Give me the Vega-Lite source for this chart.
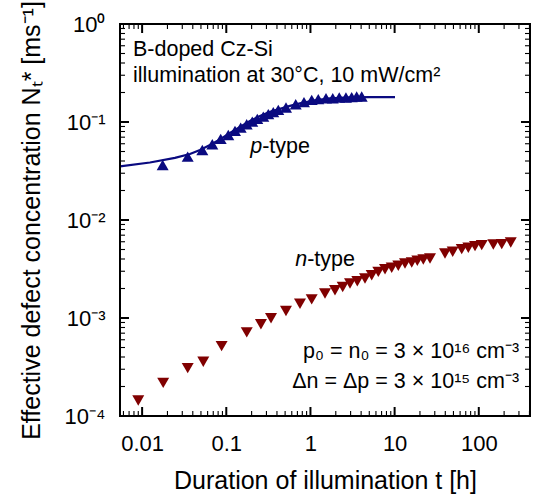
{
  "$schema": "https://vega.github.io/schema/vega-lite/v6.json",
  "width": 410,
  "height": 392,
  "autosize": {"type": "none"},
  "padding": {"left": 120, "top": 24, "right": 7, "bottom": 83},
  "background": "white",
  "config": {
    "view": {"stroke": "black", "strokeWidth": 2},
    "axis": {
      "grid": false,
      "labelColor": "black",
      "titleColor": "black",
      "labelFont": "Liberation Sans",
      "titleFont": "Liberation Sans",
      "labelFontSize": 22,
      "titleFontSize": 25,
      "titleFontWeight": "normal"
    },
    "text": {"font": "Liberation Sans", "fontSize": 21.5, "color": "black"}
  },
  "datasets": {
    "fit": [
      {"t": 0.00546, "N": 0.0352},
      {"t": 0.01239, "N": 0.0386},
      {"t": 0.02455, "N": 0.0430},
      {"t": 0.0370, "N": 0.0472},
      {"t": 0.0487, "N": 0.0519},
      {"t": 0.0640, "N": 0.0583},
      {"t": 0.0841, "N": 0.0664},
      {"t": 0.1106, "N": 0.0774},
      {"t": 0.1454, "N": 0.0891},
      {"t": 0.1912, "N": 0.1026},
      {"t": 0.2514, "N": 0.1154},
      {"t": 0.3304, "N": 0.1268},
      {"t": 0.4345, "N": 0.1361},
      {"t": 0.5713, "N": 0.1461},
      {"t": 0.751, "N": 0.1549},
      {"t": 1.132, "N": 0.1663},
      {"t": 1.707, "N": 0.1743},
      {"t": 2.951, "N": 0.1784},
      {"t": 5.10, "N": 0.1797},
      {"t": 10.1, "N": 0.1797}
    ],
    "ptype": [
      {"t": 0.01754, "N": 0.0364},
      {"t": 0.0348, "N": 0.0443},
      {"t": 0.0519, "N": 0.0518},
      {"t": 0.0682, "N": 0.0593},
      {"t": 0.0858, "N": 0.0672},
      {"t": 0.1056, "N": 0.0738},
      {"t": 0.1269, "N": 0.0811},
      {"t": 0.1483, "N": 0.0877},
      {"t": 0.1747, "N": 0.0950},
      {"t": 0.2036, "N": 0.1009},
      {"t": 0.2335, "N": 0.1076},
      {"t": 0.2752, "N": 0.1136},
      {"t": 0.3155, "N": 0.1202},
      {"t": 0.3617, "N": 0.1260},
      {"t": 0.4147, "N": 0.1330},
      {"t": 0.512, "N": 0.1404},
      {"t": 0.668, "N": 0.152},
      {"t": 0.838, "N": 0.1594},
      {"t": 1.035, "N": 0.168},
      {"t": 1.239, "N": 0.171},
      {"t": 1.53, "N": 0.175},
      {"t": 1.84, "N": 0.175},
      {"t": 2.20, "N": 0.1776},
      {"t": 2.64, "N": 0.1776},
      {"t": 3.09, "N": 0.1793},
      {"t": 3.54, "N": 0.182},
      {"t": 4.06, "N": 0.182}
    ],
    "ntype": [
      {"t": 0.0090, "N": 0.000144},
      {"t": 0.0178, "N": 0.000218},
      {"t": 0.0348, "N": 0.000308},
      {"t": 0.0533, "N": 0.000358},
      {"t": 0.088, "N": 0.000517},
      {"t": 0.175, "N": 0.000714},
      {"t": 0.258, "N": 0.000863},
      {"t": 0.340, "N": 0.000993},
      {"t": 0.512, "N": 0.00118},
      {"t": 0.751, "N": 0.00140},
      {"t": 1.034, "N": 0.00155},
      {"t": 1.489, "N": 0.001776},
      {"t": 1.957, "N": 0.00192},
      {"t": 2.416, "N": 0.002075},
      {"t": 2.951, "N": 0.002247},
      {"t": 3.603, "N": 0.002373},
      {"t": 4.447, "N": 0.002529},
      {"t": 5.342, "N": 0.002733},
      {"t": 6.40, "N": 0.002954},
      {"t": 7.69, "N": 0.003148},
      {"t": 9.235, "N": 0.003253},
      {"t": 11.06, "N": 0.00341},
      {"t": 13.29, "N": 0.00360},
      {"t": 15.97, "N": 0.003685},
      {"t": 18.61, "N": 0.003835},
      {"t": 21.93, "N": 0.003954},
      {"t": 26.33, "N": 0.00405},
      {"t": 39.7, "N": 0.004555},
      {"t": 49.0, "N": 0.00474},
      {"t": 62.7, "N": 0.00504},
      {"t": 75.1, "N": 0.00521},
      {"t": 90.2, "N": 0.00541},
      {"t": 108.4, "N": 0.00554},
      {"t": 148.9, "N": 0.00563},
      {"t": 187.4, "N": 0.00567},
      {"t": 239.7, "N": 0.00590}
    ],
    "notesLeft": [
      {"label": "B-doped Cz-Si", "t": 0.00779, "N": 0.4716},
      {"label": "illumination at 30°C, 10 mW/cm²", "t": 0.00779, "N": 0.2577},
      {"label": "-type", "t": 0.267, "N": 0.0483},
      {"label": "-type", "t": 0.915, "N": 0.00336}
    ],
    "notesItalic": [
      {"label": "p", "t": 0.267, "N": 0.0483},
      {"label": "n", "t": 0.915, "N": 0.00336}
    ],
    "notesRight": [
      {"label": "p₀ = n₀ = 3 × 10¹⁶ cm⁻³", "t": 301, "N": 0.000388},
      {"label": "Δn = Δp = 3 × 10¹⁵ cm⁻³", "t": 301, "N": 0.0001917}
    ],
    "frame": [
      {"t": 0.00546, "N": 0.0001, "k": 0},
      {"t": 406, "N": 0.0001, "k": 1},
      {"t": 406, "N": 1, "k": 2},
      {"t": 0.00546, "N": 1, "k": 3},
      {"t": 0.00546, "N": 0.0001, "k": 4}
    ],
    "majorTicks": [
      {"t": 0.01, "N": 0.0001, "edge": "bottom"}, {"t": 0.1, "N": 0.0001, "edge": "bottom"}, {"t": 1, "N": 0.0001, "edge": "bottom"}, {"t": 10, "N": 0.0001, "edge": "bottom"}, {"t": 100, "N": 0.0001, "edge": "bottom"},
      {"t": 0.01, "N": 1, "edge": "top"}, {"t": 0.1, "N": 1, "edge": "top"}, {"t": 1, "N": 1, "edge": "top"}, {"t": 10, "N": 1, "edge": "top"}, {"t": 100, "N": 1, "edge": "top"},
      {"t": 0.00546, "N": 0.0001, "edge": "left"}, {"t": 0.00546, "N": 0.001, "edge": "left"}, {"t": 0.00546, "N": 0.01, "edge": "left"}, {"t": 0.00546, "N": 0.1, "edge": "left"}, {"t": 0.00546, "N": 1, "edge": "left"},
      {"t": 406, "N": 0.0001, "edge": "right"}, {"t": 406, "N": 0.001, "edge": "right"}, {"t": 406, "N": 0.01, "edge": "right"}, {"t": 406, "N": 0.1, "edge": "right"}, {"t": 406, "N": 1, "edge": "right"}
    ],
    "minorTicks": [
      {"t": 0.006, "N": 0.0001, "edge": "bottom"}, {"t": 0.007, "N": 0.0001, "edge": "bottom"}, {"t": 0.008, "N": 0.0001, "edge": "bottom"}, {"t": 0.009, "N": 0.0001, "edge": "bottom"},
      {"t": 0.02, "N": 0.0001, "edge": "bottom"}, {"t": 0.03, "N": 0.0001, "edge": "bottom"}, {"t": 0.04, "N": 0.0001, "edge": "bottom"}, {"t": 0.05, "N": 0.0001, "edge": "bottom"}, {"t": 0.06, "N": 0.0001, "edge": "bottom"}, {"t": 0.07, "N": 0.0001, "edge": "bottom"}, {"t": 0.08, "N": 0.0001, "edge": "bottom"}, {"t": 0.09, "N": 0.0001, "edge": "bottom"},
      {"t": 0.2, "N": 0.0001, "edge": "bottom"}, {"t": 0.3, "N": 0.0001, "edge": "bottom"}, {"t": 0.4, "N": 0.0001, "edge": "bottom"}, {"t": 0.5, "N": 0.0001, "edge": "bottom"}, {"t": 0.6, "N": 0.0001, "edge": "bottom"}, {"t": 0.7, "N": 0.0001, "edge": "bottom"}, {"t": 0.8, "N": 0.0001, "edge": "bottom"}, {"t": 0.9, "N": 0.0001, "edge": "bottom"},
      {"t": 2, "N": 0.0001, "edge": "bottom"}, {"t": 3, "N": 0.0001, "edge": "bottom"}, {"t": 4, "N": 0.0001, "edge": "bottom"}, {"t": 5, "N": 0.0001, "edge": "bottom"}, {"t": 6, "N": 0.0001, "edge": "bottom"}, {"t": 7, "N": 0.0001, "edge": "bottom"}, {"t": 8, "N": 0.0001, "edge": "bottom"}, {"t": 9, "N": 0.0001, "edge": "bottom"},
      {"t": 20, "N": 0.0001, "edge": "bottom"}, {"t": 30, "N": 0.0001, "edge": "bottom"}, {"t": 40, "N": 0.0001, "edge": "bottom"}, {"t": 50, "N": 0.0001, "edge": "bottom"}, {"t": 60, "N": 0.0001, "edge": "bottom"}, {"t": 70, "N": 0.0001, "edge": "bottom"}, {"t": 80, "N": 0.0001, "edge": "bottom"}, {"t": 90, "N": 0.0001, "edge": "bottom"},
      {"t": 200, "N": 0.0001, "edge": "bottom"}, {"t": 300, "N": 0.0001, "edge": "bottom"}, {"t": 400, "N": 0.0001, "edge": "bottom"},
      {"t": 0.006, "N": 1, "edge": "top"}, {"t": 0.007, "N": 1, "edge": "top"}, {"t": 0.008, "N": 1, "edge": "top"}, {"t": 0.009, "N": 1, "edge": "top"},
      {"t": 0.02, "N": 1, "edge": "top"}, {"t": 0.03, "N": 1, "edge": "top"}, {"t": 0.04, "N": 1, "edge": "top"}, {"t": 0.05, "N": 1, "edge": "top"}, {"t": 0.06, "N": 1, "edge": "top"}, {"t": 0.07, "N": 1, "edge": "top"}, {"t": 0.08, "N": 1, "edge": "top"}, {"t": 0.09, "N": 1, "edge": "top"},
      {"t": 0.2, "N": 1, "edge": "top"}, {"t": 0.3, "N": 1, "edge": "top"}, {"t": 0.4, "N": 1, "edge": "top"}, {"t": 0.5, "N": 1, "edge": "top"}, {"t": 0.6, "N": 1, "edge": "top"}, {"t": 0.7, "N": 1, "edge": "top"}, {"t": 0.8, "N": 1, "edge": "top"}, {"t": 0.9, "N": 1, "edge": "top"},
      {"t": 2, "N": 1, "edge": "top"}, {"t": 3, "N": 1, "edge": "top"}, {"t": 4, "N": 1, "edge": "top"}, {"t": 5, "N": 1, "edge": "top"}, {"t": 6, "N": 1, "edge": "top"}, {"t": 7, "N": 1, "edge": "top"}, {"t": 8, "N": 1, "edge": "top"}, {"t": 9, "N": 1, "edge": "top"},
      {"t": 20, "N": 1, "edge": "top"}, {"t": 30, "N": 1, "edge": "top"}, {"t": 40, "N": 1, "edge": "top"}, {"t": 50, "N": 1, "edge": "top"}, {"t": 60, "N": 1, "edge": "top"}, {"t": 70, "N": 1, "edge": "top"}, {"t": 80, "N": 1, "edge": "top"}, {"t": 90, "N": 1, "edge": "top"},
      {"t": 200, "N": 1, "edge": "top"}, {"t": 300, "N": 1, "edge": "top"}, {"t": 400, "N": 1, "edge": "top"},
      {"t": 0.00546, "N": 0.0002, "edge": "left"}, {"t": 0.00546, "N": 0.0003, "edge": "left"}, {"t": 0.00546, "N": 0.0004, "edge": "left"}, {"t": 0.00546, "N": 0.0005, "edge": "left"}, {"t": 0.00546, "N": 0.0006, "edge": "left"}, {"t": 0.00546, "N": 0.0007, "edge": "left"}, {"t": 0.00546, "N": 0.0008, "edge": "left"}, {"t": 0.00546, "N": 0.0009, "edge": "left"},
      {"t": 0.00546, "N": 0.002, "edge": "left"}, {"t": 0.00546, "N": 0.003, "edge": "left"}, {"t": 0.00546, "N": 0.004, "edge": "left"}, {"t": 0.00546, "N": 0.005, "edge": "left"}, {"t": 0.00546, "N": 0.006, "edge": "left"}, {"t": 0.00546, "N": 0.007, "edge": "left"}, {"t": 0.00546, "N": 0.008, "edge": "left"}, {"t": 0.00546, "N": 0.009, "edge": "left"},
      {"t": 0.00546, "N": 0.02, "edge": "left"}, {"t": 0.00546, "N": 0.03, "edge": "left"}, {"t": 0.00546, "N": 0.04, "edge": "left"}, {"t": 0.00546, "N": 0.05, "edge": "left"}, {"t": 0.00546, "N": 0.06, "edge": "left"}, {"t": 0.00546, "N": 0.07, "edge": "left"}, {"t": 0.00546, "N": 0.08, "edge": "left"}, {"t": 0.00546, "N": 0.09, "edge": "left"},
      {"t": 0.00546, "N": 0.2, "edge": "left"}, {"t": 0.00546, "N": 0.3, "edge": "left"}, {"t": 0.00546, "N": 0.4, "edge": "left"}, {"t": 0.00546, "N": 0.5, "edge": "left"}, {"t": 0.00546, "N": 0.6, "edge": "left"}, {"t": 0.00546, "N": 0.7, "edge": "left"}, {"t": 0.00546, "N": 0.8, "edge": "left"}, {"t": 0.00546, "N": 0.9, "edge": "left"},
      {"t": 406, "N": 0.0002, "edge": "right"}, {"t": 406, "N": 0.0003, "edge": "right"}, {"t": 406, "N": 0.0004, "edge": "right"}, {"t": 406, "N": 0.0005, "edge": "right"}, {"t": 406, "N": 0.0006, "edge": "right"}, {"t": 406, "N": 0.0007, "edge": "right"}, {"t": 406, "N": 0.0008, "edge": "right"}, {"t": 406, "N": 0.0009, "edge": "right"},
      {"t": 406, "N": 0.002, "edge": "right"}, {"t": 406, "N": 0.003, "edge": "right"}, {"t": 406, "N": 0.004, "edge": "right"}, {"t": 406, "N": 0.005, "edge": "right"}, {"t": 406, "N": 0.006, "edge": "right"}, {"t": 406, "N": 0.007, "edge": "right"}, {"t": 406, "N": 0.008, "edge": "right"}, {"t": 406, "N": 0.009, "edge": "right"},
      {"t": 406, "N": 0.02, "edge": "right"}, {"t": 406, "N": 0.03, "edge": "right"}, {"t": 406, "N": 0.04, "edge": "right"}, {"t": 406, "N": 0.05, "edge": "right"}, {"t": 406, "N": 0.06, "edge": "right"}, {"t": 406, "N": 0.07, "edge": "right"}, {"t": 406, "N": 0.08, "edge": "right"}, {"t": 406, "N": 0.09, "edge": "right"},
      {"t": 406, "N": 0.2, "edge": "right"}, {"t": 406, "N": 0.3, "edge": "right"}, {"t": 406, "N": 0.4, "edge": "right"}, {"t": 406, "N": 0.5, "edge": "right"}, {"t": 406, "N": 0.6, "edge": "right"}, {"t": 406, "N": 0.7, "edge": "right"}, {"t": 406, "N": 0.8, "edge": "right"}, {"t": 406, "N": 0.9, "edge": "right"}
    ]
  },
  "layer": [
    {
      "data": {"name": "fit"},
      "mark": {"type": "line", "color": "#0a0a80", "strokeWidth": 2.2},
      "encoding": {
        "x": {
          "field": "t", "type": "quantitative",
          "scale": {"type": "log", "domain": [0.00546, 406], "nice": false},
          "axis": {
            "orient": "bottom",
            "values": [0.01, 0.1, 1, 10, 100],
            "format": "~g",
            "domain": false, "ticks": false,
            "labelPadding": 17,
            "title": "Duration of illumination t [h]",
            "titlePadding": 14
          }
        },
        "y": {
          "field": "N", "type": "quantitative",
          "scale": {"type": "log", "domain": [0.0001, 1], "nice": false},
          "axis": {
            "orient": "left",
            "values": [0.0001, 0.001, 0.01, 0.1, 1],
            "labelExpr": "datum.value > 0.5 ? '10⁰' : datum.value > 0.05 ? '10⁻¹' : datum.value > 0.005 ? '10⁻²' : datum.value > 0.0005 ? '10⁻³' : '10⁻⁴'",
            "domain": false, "ticks": false,
            "labelPadding": 15,
            "title": "Effective defect concentration Nₜ* [ms⁻¹]",
            "titlePadding": 20
          }
        }
      }
    },
    {
      "data": {"name": "frame"},
      "mark": {"type": "line", "color": "black", "strokeWidth": 2, "strokeCap": "square"},
      "encoding": {
        "x": {"field": "t", "type": "quantitative"},
        "y": {"field": "N", "type": "quantitative"},
        "order": {"field": "k", "type": "quantitative"}
      }
    },
    {
      "data": {"name": "majorTicks"},
      "mark": {"type": "point", "filled": true, "size": 324, "color": "black", "opacity": 1, "strokeWidth": 0},
      "encoding": {
        "x": {"field": "t", "type": "quantitative"},
        "y": {"field": "N", "type": "quantitative"},
        "shape": {
          "field": "edge", "type": "nominal", "legend": null,
          "scale": {
            "domain": ["bottom", "top", "left", "right"],
            "range": ["M-0.111,-1H0.111V0H-0.111Z", "M-0.111,0H0.111V1H-0.111Z", "M0,-0.111H1V0.111H0Z", "M-1,-0.111H0V0.111H-1Z"]
          }
        }
      }
    },
    {
      "data": {"name": "minorTicks"},
      "mark": {"type": "point", "filled": true, "size": 100, "color": "black", "opacity": 1, "strokeWidth": 0},
      "encoding": {
        "x": {"field": "t", "type": "quantitative"},
        "y": {"field": "N", "type": "quantitative"},
        "shape": {
          "field": "edge", "type": "nominal", "legend": null,
          "scale": {
            "domain": ["bottom", "top", "left", "right"],
            "range": ["M-0.15,-1H0.15V0H-0.15Z", "M-0.15,0H0.15V1H-0.15Z", "M0,-0.15H1V0.15H0Z", "M-1,-0.15H0V0.15H-1Z"]
          }
        }
      }
    },
    {
      "data": {"name": "ptype"},
      "mark": {"type": "point", "shape": "triangle-up", "filled": true, "size": 144, "color": "#0a0a80", "opacity": 1},
      "encoding": {
        "x": {"field": "t", "type": "quantitative"},
        "y": {"field": "N", "type": "quantitative"}
      }
    },
    {
      "data": {"name": "ntype"},
      "mark": {"type": "point", "shape": "triangle-down", "filled": true, "size": 144, "color": "#800000", "opacity": 1},
      "encoding": {
        "x": {"field": "t", "type": "quantitative"},
        "y": {"field": "N", "type": "quantitative"}
      }
    },
    {
      "data": {"name": "notesLeft"},
      "mark": {"type": "text", "align": "left", "baseline": "alphabetic"},
      "encoding": {
        "text": {"field": "label"},
        "x": {"field": "t", "type": "quantitative"},
        "y": {"field": "N", "type": "quantitative"}
      }
    },
    {
      "data": {"name": "notesItalic"},
      "mark": {"type": "text", "align": "right", "baseline": "alphabetic", "fontStyle": "italic"},
      "encoding": {
        "text": {"field": "label"},
        "x": {"field": "t", "type": "quantitative"},
        "y": {"field": "N", "type": "quantitative"}
      }
    },
    {
      "data": {"name": "notesRight"},
      "mark": {"type": "text", "align": "right", "baseline": "alphabetic"},
      "encoding": {
        "text": {"field": "label"},
        "x": {"field": "t", "type": "quantitative"},
        "y": {"field": "N", "type": "quantitative"}
      }
    }
  ]
}
